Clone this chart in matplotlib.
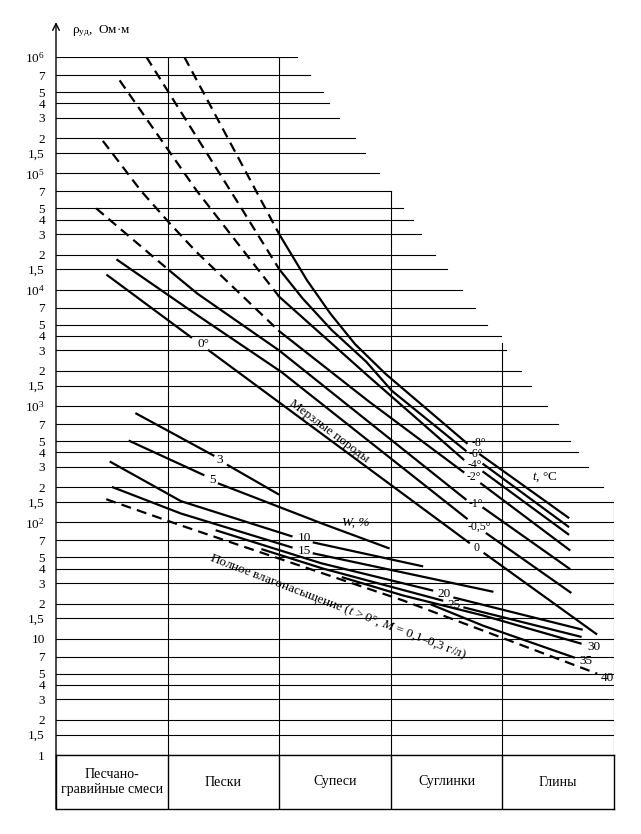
import matplotlib
matplotlib.use('Agg')
import matplotlib.pyplot as plt
import numpy as np

plt.rcParams['font.family'] = ['Liberation Serif', 'DejaVu Serif']
plt.rcParams['mathtext.fontset'] = 'custom'
plt.rcParams['mathtext.rm'] = 'Liberation Serif'
plt.rcParams['mathtext.it'] = 'Liberation Serif:italic'

nan = np.nan

soils = ['Песчано-\nгравийные смеси', 'Пески', 'Супеси', 'Суглинки', 'Глины']

# grid levels (ohm*m) and tick labels, bottom to top
ytick_vals = [m * 10 ** k for k in range(6) for m in (1, 1.5, 2, 3, 4, 5, 7)] + [1e6]
ytick_labels = (['1', '1,5', '2', '3', '4', '5', '7', '10', '1,5', '2', '3', '4', '5', '7']
                + [s for k in range(2, 6) for s in
                   [r'$\mathregular{10^{%d}}$' % k, '1,5', '2', '3', '4', '5', '7']]
                + [r'$\mathregular{10^{6}}$'])

# where the upper grid lines stop (columns), the rest run to the right edge
grid_end = {2e2: 4.90, 3e2: 4.77, 4e2: 4.68, 5e2: 4.61, 7e2: 4.50, 1e3: 4.40,
            1.5e3: 4.26, 2e3: 4.17, 3e3: 4.03, 4e3: 3.99, 5e3: 3.86, 7e3: 3.75,
            1e4: 3.64, 1.5e4: 3.50, 2e4: 3.40, 3e4: 3.27, 4e4: 3.20, 5e4: 3.11,
            7e4: 3.00, 1e5: 2.89, 1.5e5: 2.77, 2e5: 2.68, 3e5: 2.54, 4e5: 2.45,
            5e5: 2.39, 7e5: 2.28, 1e6: 2.16}

vline_x = [1, 2, 3, 4, 5]
vline_top = [1e6, 1e6, 7e4, 3.5e3, 150]

# frozen soils, t = -8 ... 0 °C
t_labels = ['-8°', '-6°', '-4°', '-2°', '-1°', '-0,5°', '0']
t_dash_x = [[1.15, 2.0], [0.81, 1.62, 2.0], [0.57, 1.26, 2.0],
            [0.42, 0.76, 1.01, 1.26, 2.0], [0.36, 1.02], [], []]
t_dash_y = [[1.0e6, 3.0e4], [1.0e6, 5.8e4, 1.5e4], [6.3e5, 7.1e4, 8.7e3],
            [1.9e5, 7.1e4, 3.8e4, 2.1e4, 4.4e3], [5.0e4, 1.45e4], [], []]
t_solid_x = [[2.0, 2.25, 2.46, 2.68, 2.95, 3.68, nan, 3.80, 4.59],
             [2.0, 2.21, 2.47, 2.78, 3.01, 3.67, nan, 3.83, 4.59],
             [2.0, 2.80, 3.65, nan, 3.83, 4.59],
             [2.0, 2.80, 3.65, nan, 3.81, 4.60],
             [1.02, 1.27, 2.0, 3.67, nan, 3.83, 4.60],
             [0.55, 1.27, 2.02, 3.68, nan, 3.86, 4.61],
             [0.46, 1.21, nan, 1.37, 3.70, nan, 3.84, 4.84]]
t_solid_y = [[3.0e4, 1.2e4, 6.2e3, 3.4e3, 1.9e3, 480, nan, 383, 110],
             [1.5e4, 8.4e3, 4.5e3, 2.4e3, 1.35e3, 414, nan, 316, 92],
             [8.7e3, 1.8e3, 348, nan, 271, 79],
             [4.4e3, 1.1e3, 271, nan, 215, 58],
             [1.45e4, 9.2e3, 3.0e3, 158, nan, 133, 40],
             [1.8e4, 6.0e3, 1.96e3, 108, nan, 80, 25],
             [1.33e4, 3.9e3, nan, 3.0e3, 67, nan, 54, 11]]
t_lab_x = [3.79, 3.76, 3.75, 3.74, 3.76, 3.79, 3.77]
t_lab_y = [480, 383, 310, 244, 144, 92, 60]

# thawed soils, moisture W, %
w_labels = ['3', '5', '10', '15', '20', '25', '30', '35']
w_x = [[0.72, 1.41, nan, 1.54, 1.99],
       [0.66, 1.32, nan, 1.46, 2.38, 2.98],
       [0.49, 1.12, 2.11, nan, 2.31, 3.28],
       [0.51, 1.12, 2.11, nan, 2.31, 3.91],
       [1.44, 2.38, 3.37, nan, 3.57, 4.71],
       [1.85, 2.39, 3.46, nan, 3.66, 4.70],
       [2.57, 3.11, 3.83, 4.70],
       [3.37, 3.83, 4.64]]
w_y = [[860, 376, nan, 310, 175],
       [500, 256, nan, 215, 98, 60],
       [330, 152, 76, nan, 67, 42],
       [200, 119, 61, nan, 54, 25.4],
       [85, 44.4, 26, nan, 22.5, 12.0],
       [58.5, 40.1, 21.3, nan, 18.5, 10.4],
       [33.6, 23.5, 15.8, 9.1],
       [19.5, 12.9, 6.9]]
w_lab_x = [1.47, 1.40, 2.23, 2.23, 3.48, 3.57, 4.82, 4.75]
w_lab_y = [341, 233, 73, 57, 24.4, 19.6, 8.5, 6.4]

# full water saturation, W = 40 %
sat_x = [0.45, 1.12, 3.11, 4.85]
sat_y = [158, 94, 21.3, 5.0]

fig = plt.figure(figsize=(6.41, 8.34), dpi=100)
ax = fig.add_axes([56 / 641, 1 - 755 / 834, 558 / 641, 698 / 834])
ax.set_yscale('log')
ax.set_xlim(0, 5)
ax.set_ylim(1, 1e6)
for s in ax.spines.values():
    s.set_visible(False)
ax.set_xticks([])
ax.set_yticks(ytick_vals, ytick_labels)
ax.minorticks_off()
ax.tick_params(axis='y', length=0, pad=8, labelsize=9.5)

for v in ytick_vals:
    ax.plot([0, grid_end.get(v, 5)], [v, v], color='k', lw=0.8)
for x, top in zip(vline_x, vline_top):
    ax.plot([x, x], [1, top], color='k', lw=0.8)

lw = 1.6
for i in range(len(t_labels)):
    if t_dash_x[i]:
        ax.plot(t_dash_x[i], t_dash_y[i], color='k', lw=lw, dashes=(4.5, 2.8))
    ax.plot(t_solid_x[i], t_solid_y[i], color='k', lw=lw)
    ax.text(t_lab_x[i], t_lab_y[i], t_labels[i], fontsize=8.5, ha='center', va='center')
ax.text(1.32, 3.4e3, '0°', fontsize=9.5, ha='center', va='center')

for i in range(len(w_labels)):
    ax.plot(w_x[i], w_y[i], color='k', lw=lw)
    ax.text(w_lab_x[i], w_lab_y[i], w_labels[i], fontsize=9.5, ha='center', va='center')
ax.plot(sat_x, sat_y, color='k', lw=lw, dashes=(4.5, 2.8))
ax.text(4.94, 4.6, '40', fontsize=9.5, ha='center', va='center')

ax.text(2.69, 100, 'W, %', fontsize=9.5, style='italic', ha='center', va='center')
ax.text(4.38, 246, r'$\mathit{t}$, °C', fontsize=9.5, ha='center', va='center')
ax.text(2.45, 607, 'Мерзлые породы', fontsize=9.5, rotation=-37,
        rotation_mode='anchor', ha='center', va='center')
ax.text(2.53, 19.0, r'Полное влагонасыщение ($\mathit{t}$ > 0°, $\mathit{M}$ = 0,1–0,3 г/л)',
        fontsize=9.5, rotation=-21, rotation_mode='anchor', ha='center', va='center')

# vertical axis with arrow
ax.annotate('', xy=(0, 1.05), xytext=(0, -54 / 698), xycoords='axes fraction',
            arrowprops=dict(arrowstyle='->', lw=1.0, color='k',
                            shrinkA=0, shrinkB=0, mutation_scale=12))
fig.text(72 / 641, 1 - 31 / 834, r'$\mathregular{\rho_{уд}}$,  Ом·м', fontsize=9.5,
         ha='left', va='center')

# soil table
tb = fig.add_axes([56 / 641, 1 - 809 / 834, 558 / 641, 54 / 834])
tb.set_xlim(0, 5)
tb.set_ylim(0, 1)
tb.set_xticks([])
tb.set_yticks([])
for s in tb.spines.values():
    s.set_linewidth(1.0)
for x in range(1, 5):
    tb.plot([x, x], [0, 1], color='k', lw=1.0)
for i, name in enumerate(soils):
    tb.text(i + 0.5, 0.5, name, fontsize=10, ha='center', va='center', linespacing=1.1)

fig.savefig('out.png', dpi=100)
